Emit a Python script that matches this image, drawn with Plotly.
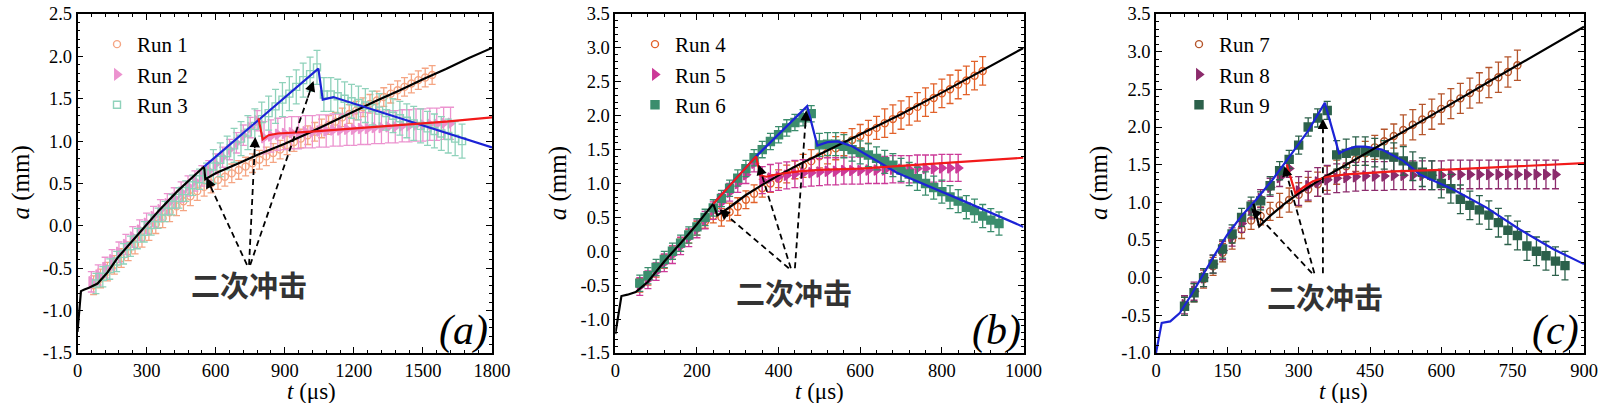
import plotly.graph_objects as go

# ---------------- Panel (a) data ----------------
t_run1 = list(range(70, 1541, 30))
a_run1 = [-0.70, -0.62, -0.54, -0.46, -0.38, -0.30, -0.22, -0.14, -0.06, 0.02,
          0.09, 0.16, 0.23, 0.29, 0.35, 0.41, 0.46, 0.50, 0.54, 0.58,
          0.62, 0.66, 0.70, 0.74, 0.78, 0.82, 0.86, 0.90, 0.95, 0.99,
          1.03, 1.07, 1.11, 1.15, 1.19, 1.23, 1.28, 1.32, 1.36, 1.40,
          1.44, 1.48, 1.52, 1.56, 1.60, 1.64, 1.68, 1.72, 1.75, 1.78]
e_run1 = [0.11] * 50

t_run2 = list(range(60, 1621, 30))
a_run2 = [-0.66, -0.58, -0.49, -0.40, -0.31, -0.22, -0.13, -0.05, 0.03, 0.11,
          0.19, 0.26, 0.33, 0.40, 0.47, 0.53, 0.59, 0.65, 0.73, 0.81,
          0.90, 0.98, 1.07, 1.16, 1.24, 1.04, 1.06, 1.08, 1.09, 1.10,
          1.10, 1.11, 1.11, 1.12, 1.12, 1.13, 1.13, 1.14, 1.14, 1.15,
          1.15, 1.16, 1.16, 1.17, 1.17, 1.18, 1.18, 1.19, 1.19, 1.20,
          1.20, 1.21, 1.21]
e_run2 = [0.12] * 25 + [0.19] * 28

t_run3 = list(range(80, 1671, 30))
a_run3 = [-0.68, -0.60, -0.51, -0.42, -0.33, -0.24, -0.15, -0.07, 0.01, 0.09,
          0.17, 0.25, 0.33, 0.41, 0.48, 0.55, 0.62, 0.70, 0.78, 0.86,
          0.95, 1.03, 1.10, 1.18, 1.26, 1.33, 1.41, 1.49, 1.56, 1.64,
          1.72, 1.79, 1.87, 1.55, 1.55, 1.53, 1.50, 1.47, 1.45, 1.42,
          1.39, 1.36, 1.33, 1.30, 1.27, 1.24, 1.21, 1.18, 1.15, 1.12,
          1.09, 1.06, 1.03, 1.00]
e_run3 = [0.12] * 17 + [0.20] * 37

# model curves (a)
t_black_a = [0, 15, 30, 50, 87, 130, 173, 230, 289, 350, 434, 500, 550, 555, 600, 700, 800,
             900, 1000, 1100, 1200, 1300, 1400, 1500, 1600, 1700, 1800]
a_black_a = [-1.25, -0.77, -0.75, -0.73, -0.68, -0.55, -0.38, -0.20, -0.02, 0.17, 0.41, 0.57, 0.70,
             0.55, 0.62, 0.74, 0.86, 0.97, 1.09, 1.22, 1.35, 1.48, 1.60, 1.73, 1.85, 1.98, 2.10]
t_blue_a = [550, 1046, 1065, 1090, 1111, 1800]
a_blue_a = [0.70, 1.855, 1.49, 1.51, 1.52, 0.925]
t_red_a = [786, 804, 830, 870, 1000, 1200, 1400, 1600, 1800]
a_red_a = [1.27, 1.02, 1.07, 1.09, 1.11, 1.15, 1.19, 1.23, 1.28]

# ---------------- Panel (b) data ----------------
t_run4 = list(range(60, 901, 20))
a_run4 = [-0.50, -0.40, -0.28, -0.15, -0.02, 0.10, 0.22, 0.34, 0.44, 0.52,
          0.50, 0.58, 0.66, 0.76, 0.85, 0.93, 1.00, 1.07, 1.14, 1.20,
          1.26, 1.33, 1.40, 1.46, 1.52, 1.58, 1.64, 1.70, 1.76, 1.82,
          1.89, 1.95, 2.01, 2.07, 2.13, 2.20, 2.26, 2.33, 2.39, 2.46,
          2.52, 2.59, 2.66]
e_run4 = [0.10] * 10 + [0.13] * 10 + [0.17] * 10 + [0.21] * 13

t_run5 = list(range(60, 841, 20))
a_run5 = [-0.52, -0.42, -0.30, -0.17, -0.05, 0.08, 0.20, 0.33, 0.46, 0.60,
          0.72, 0.87, 1.00, 1.13, 1.30, 1.05, 1.08, 1.10, 1.12, 1.14,
          1.15, 1.16, 1.17, 1.18, 1.18, 1.19, 1.19, 1.19, 1.20, 1.20,
          1.20, 1.21, 1.21, 1.21, 1.22, 1.22, 1.22, 1.23, 1.23, 1.23]
e_run5 = [0.13] * 15 + [0.20] * 25

t_run6 = list(range(60, 941, 20))
a_run6 = [-0.47, -0.36, -0.24, -0.12, 0.00, 0.12, 0.24, 0.36, 0.50, 0.64,
          0.78, 0.93, 1.08, 1.22, 1.38, 1.50, 1.62, 1.72, 1.82, 1.90,
          1.97, 2.03, 1.57, 1.58, 1.58, 1.55, 1.50, 1.46, 1.42, 1.37,
          1.32, 1.27, 1.20, 1.14, 1.07, 1.00, 0.94, 0.88, 0.80, 0.74,
          0.65, 0.60, 0.52, 0.46, 0.41]
e_run6 = [0.12] * 22 + [0.17] * 23

t_black_b = [0, 15, 30, 50, 80, 120, 160, 200, 240, 250, 280, 320, 360, 400, 450, 500, 550,
             600, 650, 700, 800, 900, 1000]
a_black_b = [-1.22, -0.66, -0.64, -0.60, -0.45, -0.15, 0.12, 0.40, 0.70, 0.53, 0.65, 0.83, 0.98,
             1.12, 1.28, 1.43, 1.58, 1.72, 1.87, 2.02, 2.34, 2.67, 3.00]
t_blue_b = [240, 345, 470, 495, 520, 545, 580, 690, 854, 1000]
a_blue_b = [0.70, 1.40, 2.14, 1.56, 1.61, 1.62, 1.55, 1.16, 0.74, 0.36]
t_red_b = [240, 345, 355, 370, 400, 450, 500, 600, 700, 800, 900, 1000]
a_red_b = [0.70, 1.40, 1.12, 1.10, 1.14, 1.18, 1.20, 1.22, 1.26, 1.30, 1.34, 1.38]

# ---------------- Panel (c) data ----------------
t_run7 = list(range(60, 761, 20))
a_run7 = [-0.38, -0.20, -0.02, 0.15, 0.33, 0.50, 0.64, 0.76, 0.82, 0.88,
          0.96, 1.03, 1.10, 1.17, 1.24, 1.32, 1.40, 1.48, 1.57, 1.65,
          1.73, 1.81, 1.88, 1.96, 2.03, 2.10, 2.17, 2.24, 2.31, 2.38,
          2.45, 2.52, 2.59, 2.66, 2.73, 2.82]
e_run7 = [0.12] * 10 + [0.16] * 13 + [0.20] * 13

t_run8 = list(range(60, 841, 20))
a_run8 = [-0.36, -0.18, 0.00, 0.18, 0.36, 0.54, 0.72, 0.90, 1.05, 1.20,
          1.33, 1.45, 1.15, 1.22, 1.27, 1.30, 1.32, 1.33, 1.34, 1.35,
          1.35, 1.35, 1.36, 1.36, 1.36, 1.36, 1.36, 1.36, 1.37, 1.37,
          1.37, 1.37, 1.37, 1.37, 1.37, 1.37, 1.37, 1.37, 1.37, 1.37]
e_run8 = [0.12] * 12 + [0.19] * 28

t_run9 = list(range(60, 861, 20))
a_run9 = [-0.38, -0.20, 0.00, 0.18, 0.38, 0.58, 0.80, 0.95, 1.02, 1.22,
          1.42, 1.57, 1.76, 2.00, 2.12, 2.22, 1.63, 1.65, 1.68, 1.68,
          1.66, 1.63, 1.60, 1.55, 1.48, 1.40, 1.36, 1.25, 1.18, 1.04,
          0.96, 0.90, 0.83, 0.73, 0.63, 0.56, 0.42, 0.35, 0.29, 0.22,
          0.16]
e_run9 = [0.12] * 16 + [0.19] * 25

t_black_c = [205, 217, 240, 270, 300, 350, 400, 450, 500, 600, 700, 800, 900]
a_black_c = [0.98, 0.68, 0.82, 0.98, 1.12, 1.32, 1.50, 1.68, 1.86, 2.23, 2.60, 2.96, 3.33]
t_blue_c = [0, 12, 30, 50, 75, 100, 125, 150, 180, 210, 245, 280, 320, 355, 385, 400, 420,
            440, 475, 520, 555, 625, 695, 765, 835, 900]
a_blue_c = [-1.00, -0.60, -0.58, -0.47, -0.22, 0.05, 0.32, 0.57, 0.82, 1.03, 1.30, 1.60, 1.95,
            2.32, 1.65, 1.70, 1.74, 1.74, 1.70, 1.55, 1.37, 1.17, 0.93, 0.64, 0.38, 0.18]
t_red_c = [275, 293, 310, 330, 360, 400, 450, 500, 600, 700, 800, 900]
a_red_c = [1.50, 1.12, 1.20, 1.28, 1.34, 1.37, 1.39, 1.41, 1.43, 1.46, 1.49, 1.52]

# annotation arrows (tail -> tips), data coordinates
arrow_tail_a = [(736, -0.46), (745, -0.46), (750, -0.46)]
arrow_tip_a = [(560, 0.57), (772, 1.05), (1025, 1.71)]
arrow_tail_b = [(425, -0.25), (430, -0.25), (440, -0.25)]
arrow_tip_b = [(255, 0.62), (351, 1.28), (468, 2.08)]
arrow_tail_c = [(328, 0.06), (333, 0.06), (351, 0.06)]
arrow_tip_c = [(200, 0.92), (270, 1.48), (351, 2.11)]
label_pos = [(746, -0.69), (437, -0.60), (356, -0.24)]

# ---------------- styling ----------------
SERIF = "Liberation Serif, Times New Roman, Times, DejaVu Serif, serif"
panels = [
    dict(x="x", y="y", dom=[77.5 / 1600, 492 / 1600], xr=[0, 1800], xt=[0, 300, 600, 900, 1200, 1500, 1800],
         xminor=60, yr=[-1.5, 2.5], legend="legend", letter="a"),
    dict(x="x2", y="y2", dom=[615.3 / 1600, 1023.5 / 1600], xr=[0, 1000], xt=[0, 200, 400, 600, 800, 1000],
         xminor=40, yr=[-1.5, 3.5], legend="legend2", letter="b"),
    dict(x="x3", y="y3", dom=[1156 / 1600, 1584 / 1600], xr=[0, 900], xt=[0, 150, 300, 450, 600, 750, 900],
         xminor=30, yr=[-1.0, 3.5], legend="legend3", letter="c"),
]
ydom = [1 - 353 / 403, 1 - 14 / 403]

series = [
    # panel, name, t, a, err, color, symbol, size
    (0, "Run 1", t_run1, a_run1, e_run1, "#f5a583", "circle-open", 7),
    (0, "Run 2", t_run2, a_run2, e_run2, "#ec93cf", "triangle-right", 9),
    (0, "Run 3", t_run3, a_run3, e_run3, "#8fd2bb", "square-open", 7),
    (1, "Run 4", t_run4, a_run4, e_run4, "#e2622a", "circle-open", 7),
    (1, "Run 5", t_run5, a_run5, e_run5, "#cc3a98", "triangle-right", 9),
    (1, "Run 6", t_run6, a_run6, e_run6, "#3b8d6d", "square", 8),
    (2, "Run 7", t_run7, a_run7, e_run7, "#b5552b", "circle-open", 7),
    (2, "Run 8", t_run8, a_run8, e_run8, "#8c2b6c", "triangle-right", 9),
    (2, "Run 9", t_run9, a_run9, e_run9, "#2c614b", "square", 8),
]
curves = [
    (0, t_black_a, a_black_a, "black"), (0, t_blue_a, a_blue_a, "#1c23d6"), (0, t_red_a, a_red_a, "#f21a1a"),
    (1, t_black_b, a_black_b, "black"), (1, t_blue_b, a_blue_b, "#1c23d6"), (1, t_red_b, a_red_b, "#f21a1a"),
    (2, t_blue_c, a_blue_c, "#1c23d6"), (2, t_black_c, a_black_c, "black"), (2, t_red_c, a_red_c, "#f21a1a"),
]

fig = go.Figure()
for p, name, t, a, e, col, sym, sz in series:
    P = panels[p]
    fig.add_trace(go.Scatter(
        x=t, y=a, mode="markers", name=name, xaxis=P["x"], yaxis=P["y"], legend=P["legend"],
        marker=dict(symbol=sym, size=sz, color=col, line=dict(width=1.4, color=col)),
        error_y=dict(type="data", array=e, visible=True, color=col, thickness=1.3, width=3.5),
    ))
for p, t, a, col in curves:
    P = panels[p]
    fig.add_trace(go.Scatter(x=t, y=a, mode="lines", showlegend=False, xaxis=P["x"], yaxis=P["y"],
                             line=dict(color=col, width=2.2)))

annotations = []
for p, (tails, tips) in enumerate([(arrow_tail_a, arrow_tip_a), (arrow_tail_b, arrow_tip_b),
                                    (arrow_tail_c, arrow_tip_c)]):
    P = panels[p]
    for (tx, ty), (hx, hy) in zip(tails, tips):
        fig.add_trace(go.Scatter(x=[tx, tx + 0.93 * (hx - tx)], y=[ty, ty + 0.93 * (hy - ty)], mode="lines",
                                 showlegend=False, xaxis=P["x"], yaxis=P["y"],
                                 line=dict(color="black", width=1.8, dash="6px,4px")))
        annotations.append(dict(x=hx, y=hy, ax=tx + 0.9 * (hx - tx), ay=ty + 0.9 * (hy - ty),
                                xref=P["x"], yref=P["y"], axref=P["x"], ayref=P["y"], text="",
                                showarrow=True, arrowhead=2, arrowsize=1.3, arrowwidth=1.6,
                                arrowcolor="black"))
    lx, ly = label_pos[p]
    annotations.append(dict(x=lx, y=ly, xref=P["x"], yref=P["y"], text="<b>二次冲击</b>", showarrow=False,
                            font=dict(family="Noto Sans CJK SC", size=29, color="#333333")))

# axis titles and panel letters
letter_x = [490, 1023, 1581]
for i, P in enumerate(panels):
    cx = (P["dom"][0] + P["dom"][1]) / 2
    annotations.append(dict(x=cx, y=1 - 391 / 403, xref="paper", yref="paper", showarrow=False,
                            yanchor="middle", text="<i>t</i> (μs)", font=dict(family=SERIF, size=23, color="black")))
    annotations.append(dict(x=P["dom"][0] - 57 / 1600, y=1 - 183 / 403, xref="paper", yref="paper",
                            showarrow=False, textangle=-90, text="<i>a</i> (mm)", xanchor="center",
                            yanchor="middle", font=dict(family=SERIF, size=25, color="black")))
    annotations.append(dict(x=letter_x[i] / 1600, y=1 - 330 / 403, xref="paper", yref="paper",
                            xanchor="right", yanchor="middle", showarrow=False,
                            text="<i>(" + P["letter"] + ")</i>",
                            font=dict(family=SERIF, size=42, color="black")))

layout = dict(width=1600, height=403, autosize=False, margin=dict(l=0, r=0, t=0, b=0, pad=0),
              paper_bgcolor="white", plot_bgcolor="white", annotations=annotations,
              font=dict(family=SERIF))

legend_x = [97, 635, 1179]
for i, P in enumerate(panels):
    xs = "xaxis" if i == 0 else "xaxis%d" % (i + 1)
    ys = "yaxis" if i == 0 else "yaxis%d" % (i + 1)
    yr = P["yr"]
    yt = []
    v = yr[0]
    while v <= yr[1] + 1e-9:
        yt.append(round(v, 2))
        v += 0.5
    common = dict(showline=True, linecolor="black", linewidth=1.5, mirror="allticks", ticks="inside",
                  ticklen=6, tickwidth=1.3, tickcolor="black", showgrid=False, zeroline=False,
                  automargin=False, tickfont=dict(family=SERIF, size=18.5, color="black"))
    layout[xs] = dict(common, domain=P["dom"], range=P["xr"], tickvals=P["xt"],
                      ticktext=[str(v) for v in P["xt"]], anchor=P["y"],
                      minor=dict(ticks="inside", ticklen=3, tickwidth=1, tickcolor="black", dtick=P["xminor"]))
    layout[ys] = dict(common, domain=ydom, range=yr, tickvals=yt,
                      ticktext=["%.1f" % v for v in yt], anchor=P["x"],
                      minor=dict(ticks="inside", ticklen=3, tickwidth=1, tickcolor="black", dtick=0.1))
    lg = "legend" if i == 0 else "legend%d" % (i + 1)
    layout[lg] = dict(x=legend_x[i] / 1600, y=1 - 24 / 403, xanchor="left", yanchor="top",
                      bgcolor="rgba(0,0,0,0)", font=dict(family=SERIF, size=21, color="black"),
                      tracegroupgap=0, itemsizing="trace")

fig.update_layout(**layout)
fig.write_html("out.html", config={"responsive": False}, default_width="1600px", default_height="403px",
               post_script="document.body.style.margin='0';document.body.style.padding='0';"
                           "document.documentElement.style.overflow='hidden';")
